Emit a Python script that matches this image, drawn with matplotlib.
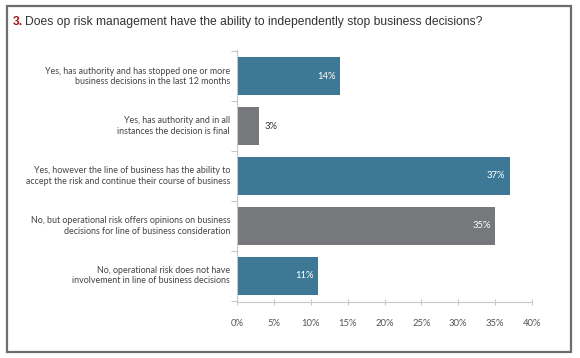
import matplotlib.pyplot as plt
from matplotlib.patches import Rectangle

categories = [
    "Yes, has authority and has stopped one or more\nbusiness decisions in the last 12 months",
    "Yes, has authority and in all\ninstances the decision is final",
    "Yes, however the line of business has the ability to\naccept the risk and continue their course of business",
    "No, but operational risk offers opinions on business\ndecisions for line of business consideration",
    "No, operational risk does not have\ninvolvement in line of business decisions",
]
values = [14, 3, 37, 35, 11]
colors = ["#3d7896", "#77787b", "#3d7896", "#77787b", "#3d7896"]
xticks = [0, 5, 10, 15, 20, 25, 30, 35, 40]

plt.rcParams['font.family'] = ['Lato', 'DejaVu Sans']

fig = plt.figure(figsize=(5.8, 3.58), dpi=100)
fig.patches.append(Rectangle((7 / 580, 1 - 352 / 358), 564 / 580, 346 / 358,
                             transform=fig.transFigure, fill=False,
                             edgecolor="#6d6d6d", linewidth=1.6))
fig.text(13 / 580, 1 - 22 / 358, "3.", color="#9b1b1f", fontsize=8.7,
         family="Liberation Sans", fontweight="bold", va="center", ha="left")
fig.text(25 / 580, 1 - 22 / 358,
         "Does op risk management have the ability to independently stop business decisions?",
         color="#333333", fontsize=8.7, family="Liberation Sans", va="center", ha="left")

ax = fig.add_axes([237 / 580, 1 - 302 / 358, 295 / 580, 252 / 358])
ypos = list(range(len(values)))
ax.barh(ypos, values, height=0.76, color=colors)
ax.set_xlim(0, 40)
ax.set_ylim(4.53, -0.53)

for y, v in zip(ypos, values):
    if v < 5:
        ax.text(v + 0.7, y, f"{v}%", va="center", ha="left", fontsize=6.8, color="#333333")
    else:
        ax.text(v - 0.6, y, f"{v}%", va="center", ha="right", fontsize=6.8, color="white")

ax.set_xticks(xticks)
ax.set_xticklabels([f"{t}%" for t in xticks], fontsize=6.8, color="#555555")
ax.set_yticks([y + 0.5 for y in range(-1, len(values))])
ax.set_yticklabels([])
ax.tick_params(axis="y", length=4, color="#c8c8c8", direction="out")
ax.tick_params(axis="x", length=4, color="#c8c8c8", direction="inout", pad=10)
for y, label in zip(ypos, categories):
    ax.annotate(label, xy=(0, y), xycoords=("axes fraction", "data"),
                xytext=(-5, 0), textcoords="offset points", ha="right", va="center",
                fontsize=6.4, color="#444444", linespacing=1.2)
for s in ["top", "right"]:
    ax.spines[s].set_visible(False)
for s in ["left", "bottom"]:
    ax.spines[s].set_color("#c8c8c8")
    ax.spines[s].set_linewidth(0.8)

fig.savefig("out.png", dpi=100)
